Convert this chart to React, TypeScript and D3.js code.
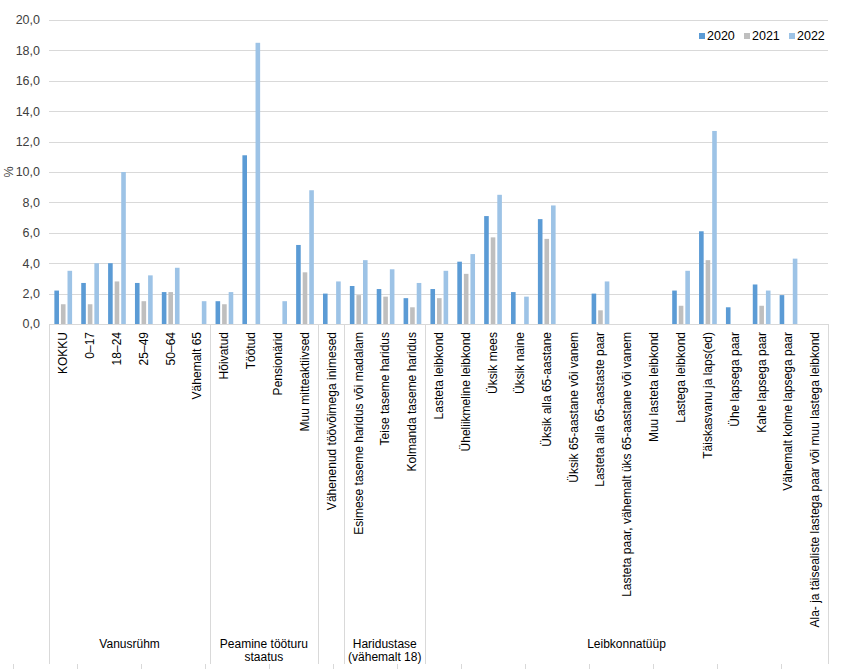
import { useEffect, useRef } from 'react';
import * as d3 from 'd3';

const series = ['2020', '2021', '2022'];
const colors = ['#5B9BD5', '#BFBFBF', '#9DC3E6'];

const groups = [
  { name: ['Vanusrühm'], size: 6 },
  { name: ['Peamine tööturu', 'staatus'], size: 4 },
  { name: [''], size: 1 },
  { name: ['Haridustase', '(vähemalt 18)'], size: 3 },
  { name: ['Leibkonnatüüp'], size: 15 },
];

const categories = [
  'KOKKU', '0–17', '18–24', '25–49', '50–64', 'Vähemalt 65',
  'Hõivatud', 'Töötud', 'Pensionärid', 'Muu mitteaktiivsed',
  'Vähenenud töövõimega inimesed',
  'Esimese taseme haridus või madalam', 'Teise taseme haridus', 'Kolmanda taseme haridus',
  'Lasteta leibkond', 'Üheliikmeline leibkond', 'Üksik mees', 'Üksik naine',
  'Üksik alla 65-aastane', 'Üksik 65-aastane või vanem', 'Lasteta alla 65-aastaste paar',
  'Lasteta paar, vähemalt üks 65-aastane või vanem', 'Muu lasteta leibkond',
  'Lastega leibkond', 'Täiskasvanu ja laps(ed)', 'Ühe lapsega paar', 'Kahe lapsega paar',
  'Vähemalt kolme lapsega paar', 'Ala- ja täisealiste lastega paar või muu lastega leibkond',
];

// null = no value shown
const v2020 = [2.2, 2.7, 4.0, 2.7, 2.1, null, 1.5, 11.1, null, 5.2, 2.0, 2.5, 2.3, 1.7,
  2.3, 4.1, 7.1, 2.1, 6.9, null, 2.0, null, null, 2.2, 6.1, 1.1, 2.6, 1.9, null];
const v2021 = [1.3, 1.3, 2.8, 1.5, 2.1, null, 1.3, null, null, 3.4, null, 1.9, 1.8, 1.1,
  1.7, 3.3, 5.7, null, 5.6, null, 0.9, null, null, 1.2, 4.2, null, 1.2, null, null];
const v2022 = [3.5, 4.0, 10.0, 3.2, 3.7, 1.5, 2.1, 18.5, 1.5, 8.8, 2.8, 4.2, 3.6, 2.7,
  3.5, 4.6, 8.5, 1.8, 7.8, null, 2.8, null, null, 3.5, 12.7, null, 2.2, 4.3, null];

const yTicks = [0, 2, 4, 6, 8, 10, 12, 14, 16, 18, 20];

export default function App() {
  const svgRef = useRef<SVGSVGElement>(null);
  const width = 841;
  const height = 669;

  useEffect(() => {
    if (!svgRef.current) return;
    const svg = d3.select(svgRef.current);
    svg.selectAll('*').remove();

    const margin = { top: 20, right: 13, left: 49 };
    const plotBottom = 324;
    const font = '"Liberation Sans", Arial, sans-serif';
    const fontSize = '12px';
    const gridColor = '#D9D9D9';

    const x0 = d3.scaleBand<string>()
      .domain(categories)
      .range([margin.left, width - margin.right])
      .padding(0);
    const bw = x0.bandwidth();
    const x1 = d3.scaleBand<string>()
      .domain(series)
      .range([bw * 0.2, bw * 0.86])
      .paddingInner(0.3);

    const y = d3.scaleLinear().domain([0, 20]).range([plotBottom, margin.top]);

    // grid
    svg.append('g')
      .selectAll('line')
      .data(yTicks)
      .enter()
      .append('line')
      .attr('x1', margin.left)
      .attr('x2', width - margin.right)
      .attr('y1', d => Math.round(y(d)) + 0.5)
      .attr('y2', d => Math.round(y(d)) + 0.5)
      .attr('stroke', gridColor)
      .attr('stroke-width', 1);

    // y tick labels
    svg.append('g')
      .selectAll('text')
      .data(yTicks)
      .enter()
      .append('text')
      .attr('x', 40)
      .attr('y', d => y(d))
      .attr('dy', '0.35em')
      .attr('text-anchor', 'end')
      .style('font-family', font)
      .style('font-size', '12.5px')
      .attr('fill', '#404040')
      .text(d => d3.format('.1f')(d).replace('.', ','));

    svg.append('text')
      .attr('transform', `translate(13,${y(10)}) rotate(-90)`)
      .attr('text-anchor', 'middle')
      .style('font-family', font)
      .style('font-size', '12.5px')
      .attr('fill', '#404040')
      .text('%');

    // bars
    const valueSets = [v2020, v2021, v2022];
    const barG = svg.append('g');
    series.forEach((s, si) => {
      barG.append('g')
        .selectAll('rect')
        .data(categories.map((c, i) => ({ c, v: valueSets[si][i] })).filter(d => d.v != null))
        .enter()
        .append('rect')
        .attr('x', d => (x0(d.c) || 0) + (x1(s) || 0))
        .attr('width', x1.bandwidth())
        .attr('y', d => y(d.v as number))
        .attr('height', d => plotBottom - y(d.v as number))
        .attr('fill', colors[si]);
    });

    // category labels
    svg.append('g')
      .selectAll('text')
      .data(categories)
      .enter()
      .append('text')
      .attr('transform', d => `translate(${(x0(d) || 0) + bw / 2 + 0.5},332) rotate(-90)`)
      .attr('dy', '0.35em')
      .attr('text-anchor', 'end')
      .style('font-family', font)
      .style('font-size', fontSize)
      .attr('fill', '#000')
      .text(d => d);

    // group separators and labels
    let idx = 0;
    const bounds: number[] = [margin.left];
    const gLabels = svg.append('g');
    groups.forEach(g => {
      const start = x0(categories[idx]) || 0;
      idx += g.size;
      const end = idx < categories.length ? (x0(categories[idx]) || 0) : width - margin.right;
      bounds.push(end);
      const cx = (start + end) / 2;
      g.name.forEach((line, li) => {
        gLabels.append('text')
          .attr('x', cx)
          .attr('y', 648 + li * 13)
          .attr('text-anchor', 'middle')
          .style('font-family', font)
          .style('font-size', fontSize)
          .attr('fill', '#000')
          .text(line);
      });
    });

    svg.append('g')
      .selectAll('line')
      .data(bounds)
      .enter()
      .append('line')
      .attr('x1', d => Math.round(d) + 0.5)
      .attr('x2', d => Math.round(d) + 0.5)
      .attr('y1', plotBottom)
      .attr('y2', 664)
      .attr('stroke', gridColor);

    // faint ticks along the bottom edge
    svg.append('g')
      .selectAll('line')
      .data(d3.range(13, width, 64))
      .enter()
      .append('line')
      .attr('x1', d => d + 0.5)
      .attr('x2', d => d + 0.5)
      .attr('y1', 664)
      .attr('y2', 669)
      .attr('stroke', gridColor);

    // legend
    const legend = svg.append('g');
    const lx = [699, 744, 789];
    series.forEach((s, i) => {
      legend.append('rect')
        .attr('x', lx[i])
        .attr('y', 33)
        .attr('width', 6)
        .attr('height', 6)
        .attr('fill', colors[i]);
      legend.append('text')
        .attr('x', lx[i] + 8)
        .attr('y', 36)
        .attr('dy', '0.35em')
        .style('font-family', font)
        .style('font-size', '12.5px')
        .attr('fill', '#000')
        .text(s);
    });
  }, []);

  return (
    <svg
      ref={svgRef}
      width={width}
      height={height}
      style={{ position: 'absolute', left: 0, top: 0, background: '#fff' }}
    />
  );
}
